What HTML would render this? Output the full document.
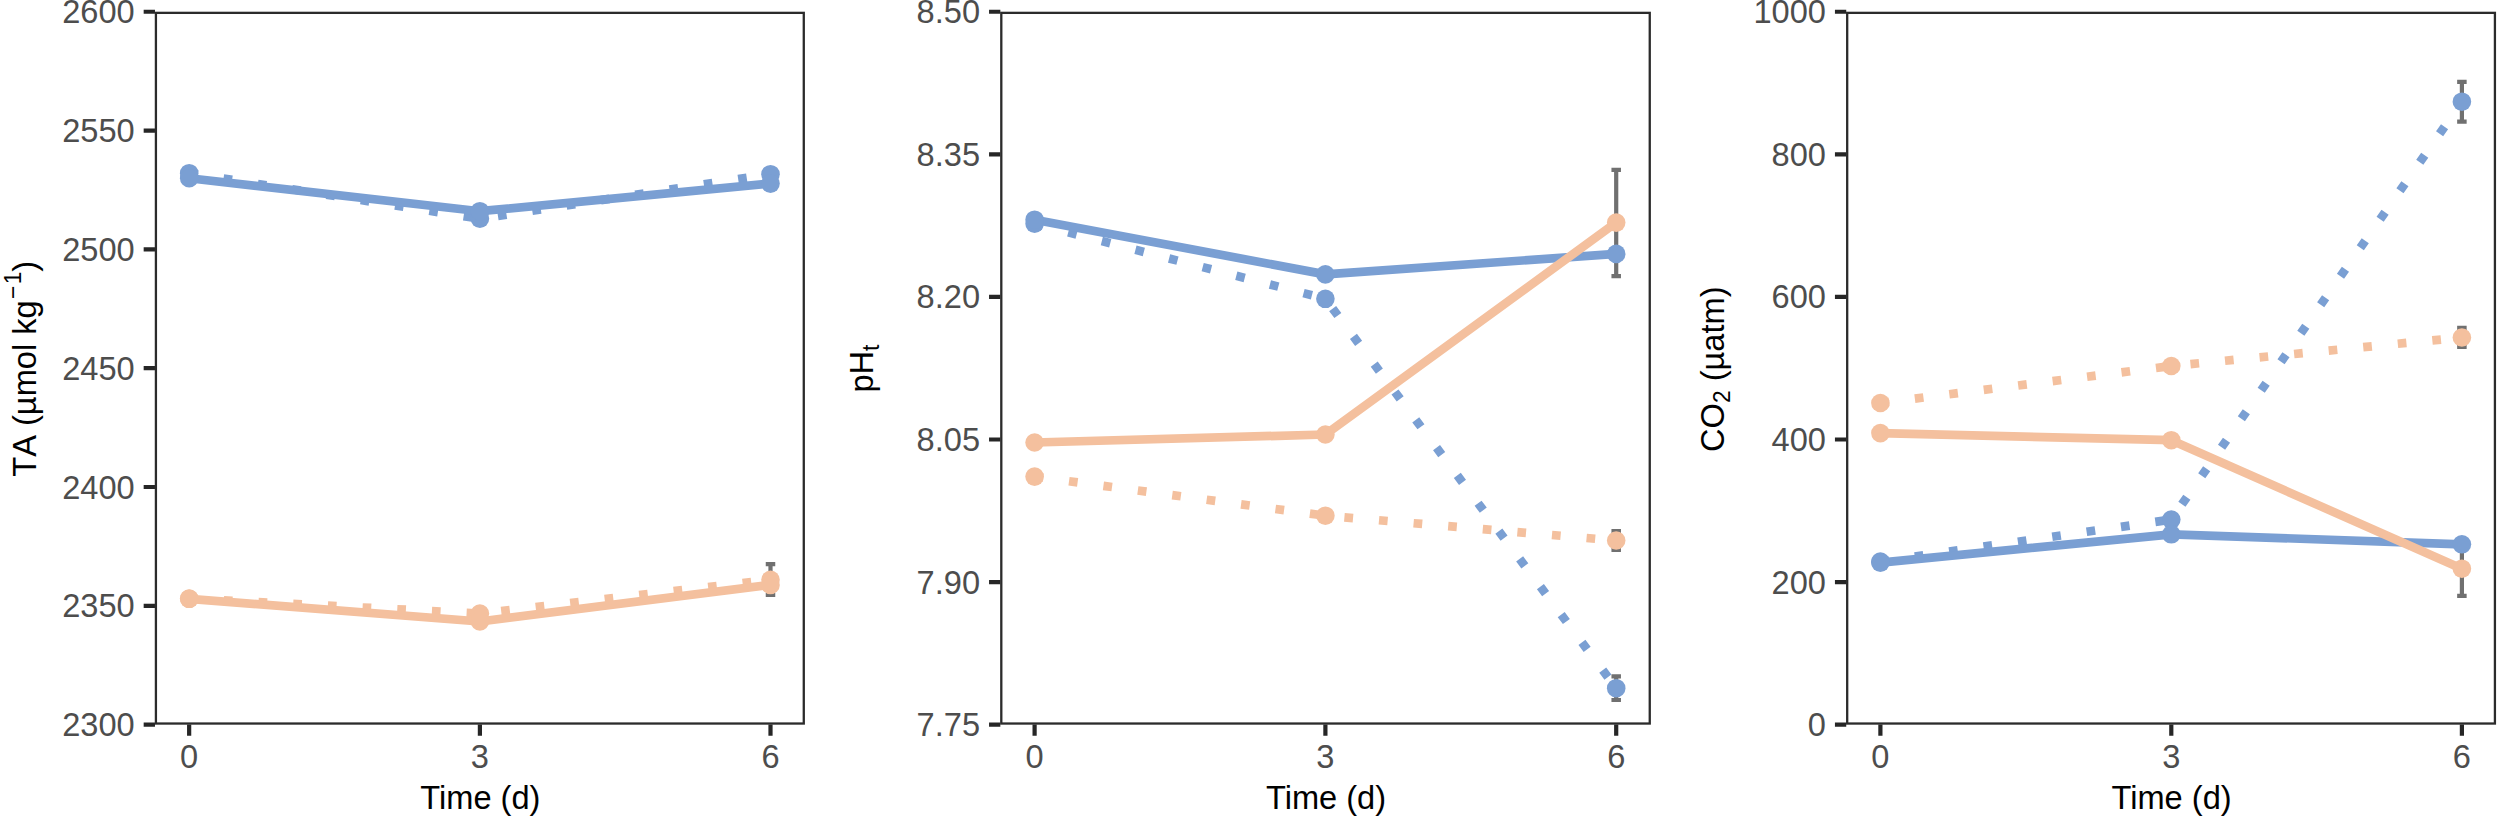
<!DOCTYPE html>
<html lang="en"><head><meta charset="utf-8"><title>Carbonate chemistry over time</title>
<style>
html,body{margin:0;padding:0;background:#fff}
body{width:2500px;height:816px;overflow:hidden}
svg{display:block}
text{font-family:"Liberation Sans",Arial,Helvetica,sans-serif}
.nk{font-kerning:none}
.tk{font-size:32.6px;fill:#4D4D4D}
.ti{font-size:32.6px;fill:#000}
.sm{font-size:22.8px}
</style></head><body>
<svg width="2500" height="816" viewBox="0 0 2500 816">
<rect width="2500" height="816" fill="#fff"/>
<g>
<path d="M765.75 564.20H775.25M765.75 595.00H775.25M770.50 564.20V595.00" stroke="#707070" stroke-width="4.2" fill="none"/>
<polyline points="189.2,173.2 479.9,218.7 770.5,174.2" fill="none" stroke="#7A9FD3" stroke-width="8.7" stroke-linejoin="round" stroke-dasharray="8.68 26.04"/>
<polyline points="189.2,178.2 479.9,211.2 770.5,183.6" fill="none" stroke="#7A9FD3" stroke-width="8.7" stroke-linejoin="round"/>
<polyline points="189.2,598.6 479.9,613.5 770.5,579.8" fill="none" stroke="#F4C09E" stroke-width="8.7" stroke-linejoin="round" stroke-dasharray="8.68 26.04"/>
<polyline points="189.2,598.8 479.9,621.5 770.5,584.9" fill="none" stroke="#F4C09E" stroke-width="8.7" stroke-linejoin="round"/>
<circle cx="189.2" cy="173.2" r="9.3" fill="#7A9FD3"/>
<circle cx="479.9" cy="218.7" r="9.3" fill="#7A9FD3"/>
<circle cx="770.5" cy="174.2" r="9.3" fill="#7A9FD3"/>
<circle cx="189.2" cy="178.2" r="9.3" fill="#7A9FD3"/>
<circle cx="479.9" cy="211.2" r="9.3" fill="#7A9FD3"/>
<circle cx="770.5" cy="183.6" r="9.3" fill="#7A9FD3"/>
<circle cx="189.2" cy="598.6" r="9.3" fill="#F4C09E"/>
<circle cx="479.9" cy="613.5" r="9.3" fill="#F4C09E"/>
<circle cx="770.5" cy="579.8" r="9.3" fill="#F4C09E"/>
<circle cx="189.2" cy="598.8" r="9.3" fill="#F4C09E"/>
<circle cx="479.9" cy="621.5" r="9.3" fill="#F4C09E"/>
<circle cx="770.5" cy="584.9" r="9.3" fill="#F4C09E"/>
<rect x="155.92" y="12.86" width="647.86" height="710.67" fill="none" stroke="#2B2B2B" stroke-width="2.3"/>
<path d="M143.67 11.76H154.97M143.67 130.57H154.97M143.67 249.38H154.97M143.67 368.19H154.97M143.67 487.01H154.97M143.67 605.82H154.97M143.67 724.63H154.97M189.15 724.43V735.73M479.90 724.43V735.73M770.50 724.43V735.73" stroke="#262626" stroke-width="4.2" fill="none"/>
<text class="tk" transform="translate(134.67 23.26) scale(1 1.040)" text-anchor="end">2600</text>
<text class="tk" transform="translate(134.67 142.07) scale(1 1.040)" text-anchor="end">2550</text>
<text class="tk" transform="translate(134.67 260.88) scale(1 1.040)" text-anchor="end">2500</text>
<text class="tk" transform="translate(134.67 379.69) scale(1 1.040)" text-anchor="end">2450</text>
<text class="tk" transform="translate(134.67 498.51) scale(1 1.040)" text-anchor="end">2400</text>
<text class="tk" transform="translate(134.67 617.32) scale(1 1.040)" text-anchor="end">2350</text>
<text class="tk" transform="translate(134.67 736.13) scale(1 1.040)" text-anchor="end">2300</text>
<text class="tk" transform="translate(189.15 768.45) scale(1 1.040)" text-anchor="middle">0</text>
<text class="tk" transform="translate(479.90 768.45) scale(1 1.040)" text-anchor="middle">3</text>
<text class="tk" transform="translate(770.50 768.45) scale(1 1.040)" text-anchor="middle">6</text>
<text class="ti" transform="translate(480.35 809.40) scale(1 1.040)" text-anchor="middle">Time (d)</text>
<text class="ti nk" transform="translate(36.00 476.70) rotate(-90) scale(1 1.040)" text-anchor="start">TA (µmol kg<tspan class="sm" x="177.75" dy="-14.8">−</tspan><tspan class="sm" x="192.4">1</tspan><tspan x="204.9" dy="14.8">)</tspan></text>
</g>
<g>
<path d="M1611.45 169.90H1620.95M1611.45 276.10H1620.95M1616.20 169.90V276.10" stroke="#707070" stroke-width="4.2" fill="none"/>
<path d="M1611.45 531.00H1620.95M1611.45 550.00H1620.95M1616.20 531.00V550.00" stroke="#707070" stroke-width="4.2" fill="none"/>
<path d="M1611.45 676.40H1620.95M1611.45 700.00H1620.95M1616.20 676.40V700.00" stroke="#707070" stroke-width="4.2" fill="none"/>
<polyline points="1034.6,223.7 1325.4,298.8 1616.2,688.2" fill="none" stroke="#7A9FD3" stroke-width="8.7" stroke-linejoin="round" stroke-dasharray="8.68 26.04"/>
<polyline points="1034.6,219.7 1325.4,274.4 1616.2,253.9" fill="none" stroke="#7A9FD3" stroke-width="8.7" stroke-linejoin="round"/>
<polyline points="1034.6,476.6 1325.4,515.7 1616.2,540.5" fill="none" stroke="#F4C09E" stroke-width="8.7" stroke-linejoin="round" stroke-dasharray="8.68 26.04"/>
<polyline points="1034.6,442.5 1325.4,434.5 1616.2,222.6" fill="none" stroke="#F4C09E" stroke-width="8.7" stroke-linejoin="round"/>
<circle cx="1034.6" cy="223.7" r="9.3" fill="#7A9FD3"/>
<circle cx="1325.4" cy="298.8" r="9.3" fill="#7A9FD3"/>
<circle cx="1616.2" cy="688.2" r="9.3" fill="#7A9FD3"/>
<circle cx="1034.6" cy="219.7" r="9.3" fill="#7A9FD3"/>
<circle cx="1325.4" cy="274.4" r="9.3" fill="#7A9FD3"/>
<circle cx="1616.2" cy="253.9" r="9.3" fill="#7A9FD3"/>
<circle cx="1034.6" cy="476.6" r="9.3" fill="#F4C09E"/>
<circle cx="1325.4" cy="515.7" r="9.3" fill="#F4C09E"/>
<circle cx="1616.2" cy="540.5" r="9.3" fill="#F4C09E"/>
<circle cx="1034.6" cy="442.5" r="9.3" fill="#F4C09E"/>
<circle cx="1325.4" cy="434.5" r="9.3" fill="#F4C09E"/>
<circle cx="1616.2" cy="222.6" r="9.3" fill="#F4C09E"/>
<rect x="1001.30" y="12.86" width="648.45" height="710.67" fill="none" stroke="#2B2B2B" stroke-width="2.3"/>
<path d="M989.05 11.76H1000.35M989.05 154.33H1000.35M989.05 296.91H1000.35M989.05 439.48H1000.35M989.05 582.06H1000.35M989.05 724.63H1000.35M1034.60 724.43V735.73M1325.40 724.43V735.73M1616.20 724.43V735.73" stroke="#262626" stroke-width="4.2" fill="none"/>
<text class="tk" transform="translate(980.05 23.26) scale(1 1.040)" text-anchor="end">8.50</text>
<text class="tk" transform="translate(980.05 165.83) scale(1 1.040)" text-anchor="end">8.35</text>
<text class="tk" transform="translate(980.05 308.41) scale(1 1.040)" text-anchor="end">8.20</text>
<text class="tk" transform="translate(980.05 450.98) scale(1 1.040)" text-anchor="end">8.05</text>
<text class="tk" transform="translate(980.05 593.56) scale(1 1.040)" text-anchor="end">7.90</text>
<text class="tk" transform="translate(980.05 736.13) scale(1 1.040)" text-anchor="end">7.75</text>
<text class="tk" transform="translate(1034.60 768.45) scale(1 1.040)" text-anchor="middle">0</text>
<text class="tk" transform="translate(1325.40 768.45) scale(1 1.040)" text-anchor="middle">3</text>
<text class="tk" transform="translate(1616.20 768.45) scale(1 1.040)" text-anchor="middle">6</text>
<text class="ti" transform="translate(1326.03 809.40) scale(1 1.040)" text-anchor="middle">Time (d)</text>
<text class="ti nk" transform="translate(872.80 368.60) rotate(-90) scale(1 1.040)" text-anchor="middle">pH<tspan class="sm" dy="5.5">t</tspan></text>
</g>
<g>
<path d="M2457.15 81.90H2466.65M2457.15 121.70H2466.65M2461.90 81.90V121.70" stroke="#707070" stroke-width="4.2" fill="none"/>
<path d="M2457.15 327.80H2466.65M2457.15 347.00H2466.65M2461.90 327.80V347.00" stroke="#707070" stroke-width="4.2" fill="none"/>
<path d="M2457.15 541.60H2466.65M2457.15 595.80H2466.65M2461.90 541.60V595.80" stroke="#707070" stroke-width="4.2" fill="none"/>
<polyline points="1880.4,561.5 2171.3,519.6 2461.9,101.7" fill="none" stroke="#7A9FD3" stroke-width="8.7" stroke-linejoin="round" stroke-dasharray="8.68 26.04"/>
<polyline points="1880.4,562.6 2171.3,534.3 2461.9,544.3" fill="none" stroke="#7A9FD3" stroke-width="8.7" stroke-linejoin="round"/>
<polyline points="1880.4,403.0 2171.3,366.0 2461.9,337.5" fill="none" stroke="#F4C09E" stroke-width="8.7" stroke-linejoin="round" stroke-dasharray="8.68 26.04"/>
<polyline points="1880.4,433.1 2171.3,440.2 2461.9,568.7" fill="none" stroke="#F4C09E" stroke-width="8.7" stroke-linejoin="round"/>
<circle cx="1880.4" cy="561.5" r="9.3" fill="#7A9FD3"/>
<circle cx="2171.3" cy="519.6" r="9.3" fill="#7A9FD3"/>
<circle cx="2461.9" cy="101.7" r="9.3" fill="#7A9FD3"/>
<circle cx="1880.4" cy="562.6" r="9.3" fill="#7A9FD3"/>
<circle cx="2171.3" cy="534.3" r="9.3" fill="#7A9FD3"/>
<circle cx="2461.9" cy="544.3" r="9.3" fill="#7A9FD3"/>
<circle cx="1880.4" cy="403.0" r="9.3" fill="#F4C09E"/>
<circle cx="2171.3" cy="366.0" r="9.3" fill="#F4C09E"/>
<circle cx="2461.9" cy="337.5" r="9.3" fill="#F4C09E"/>
<circle cx="1880.4" cy="433.1" r="9.3" fill="#F4C09E"/>
<circle cx="2171.3" cy="440.2" r="9.3" fill="#F4C09E"/>
<circle cx="2461.9" cy="568.7" r="9.3" fill="#F4C09E"/>
<rect x="1847.19" y="12.86" width="647.73" height="710.67" fill="none" stroke="#2B2B2B" stroke-width="2.3"/>
<path d="M1834.94 11.76H1846.24M1834.94 154.33H1846.24M1834.94 296.91H1846.24M1834.94 439.48H1846.24M1834.94 582.06H1846.24M1834.94 724.63H1846.24M1880.40 724.43V735.73M2171.30 724.43V735.73M2461.90 724.43V735.73" stroke="#262626" stroke-width="4.2" fill="none"/>
<text class="tk" transform="translate(1825.94 23.26) scale(1 1.040)" text-anchor="end">1000</text>
<text class="tk" transform="translate(1825.94 165.83) scale(1 1.040)" text-anchor="end">800</text>
<text class="tk" transform="translate(1825.94 308.41) scale(1 1.040)" text-anchor="end">600</text>
<text class="tk" transform="translate(1825.94 450.98) scale(1 1.040)" text-anchor="end">400</text>
<text class="tk" transform="translate(1825.94 593.56) scale(1 1.040)" text-anchor="end">200</text>
<text class="tk" transform="translate(1825.94 736.13) scale(1 1.040)" text-anchor="end">0</text>
<text class="tk" transform="translate(1880.40 768.45) scale(1 1.040)" text-anchor="middle">0</text>
<text class="tk" transform="translate(2171.30 768.45) scale(1 1.040)" text-anchor="middle">3</text>
<text class="tk" transform="translate(2461.90 768.45) scale(1 1.040)" text-anchor="middle">6</text>
<text class="ti" transform="translate(2171.56 809.40) scale(1 1.040)" text-anchor="middle">Time (d)</text>
<text class="ti nk" transform="translate(1724.00 369.20) rotate(-90) scale(1 1.040)" text-anchor="middle">CO<tspan class="sm" dy="5.8">2</tspan><tspan dy="-5.8"> (µatm)</tspan></text>
</g>
</svg>
</body></html>
